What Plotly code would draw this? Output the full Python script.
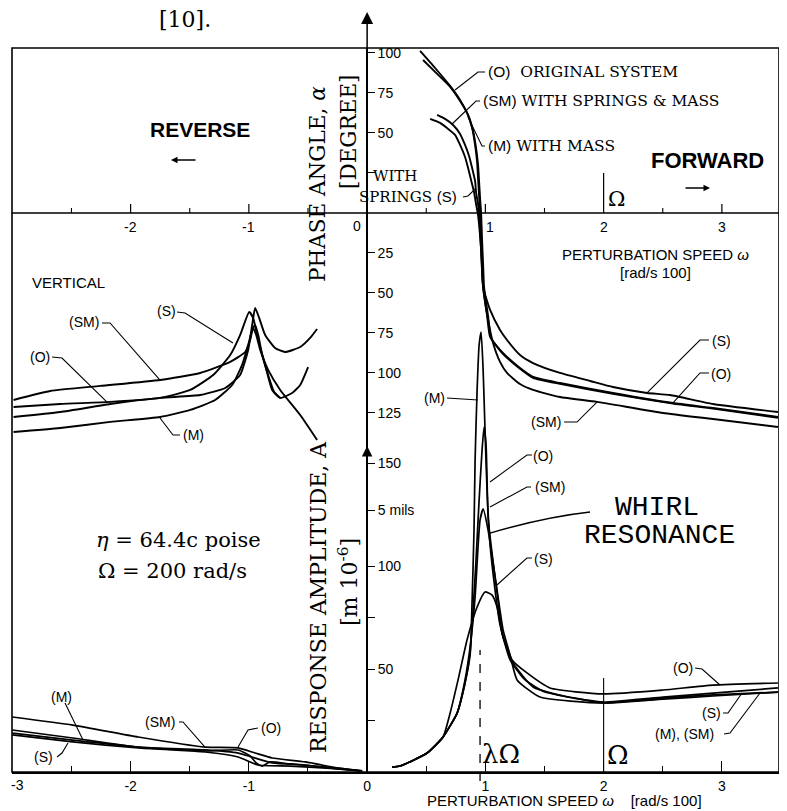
import plotly.graph_objects as go

# ---------------- data (omega in rad/s 100, phase in degree, amplitude in m 1e-6) -------------
# forward phase
w_ph_O = [0.448,0.575,0.702,0.786,0.845,0.888,0.913,0.930,0.938,0.947,0.955,0.964,0.972,0.981,1.014,1.040,1.124,1.183,1.293,1.403,1.631,2.079,2.587,2.925,3.474]
ph_O   = [101.3,90.6,79.4,70.6,62.5,53.1,42.5,31.9,21.9,10.6,0,-16.9,-32.5,-46.3,-63.8,-77.5,-85.6,-90,-96.9,-102.5,-106.3,-112.5,-118.8,-121.9,-127.5]
w_ph_M = [0.473,0.592,0.702,0.786,0.854,0.896,0.921,0.938,0.947,0.955,0.964,0.972,0.981,0.989,1.023,1.048,1.124,1.183,1.293,1.403,1.631,2.079,2.587,2.925,3.474]
ph_M   = [95.6,86.9,78.8,70,61.3,51.3,40.6,30,19.4,9.4,0,-16.9,-32.5,-46.3,-64.5,-78,-86,-90.5,-97.3,-103,-106.8,-113,-119.2,-122.3,-128]
w_ph_SM = [0.592,0.659,0.727,0.786,0.828,0.862,0.888,0.913,0.921,0.938,0.947,0.964,0.981,1.023,1.065,1.124,1.183,1.293,1.403,1.631,1.944,2.502,2.925,3.474]
ph_SM   = [61.3,58.8,55,49.4,42.5,35.6,28.1,20,13.1,5.6,-1.3,-23.1,-46.3,-66.9,-81.3,-93.1,-100,-106.9,-110.6,-115,-118.1,-125,-128.8,-133.8]
w_ph_S = [0.533,0.617,0.676,0.744,0.786,0.828,0.854,0.879,0.904,0.921,0.938,0.964,0.981,1.040,1.124,1.183,1.293,1.403,1.631,1.885,2.079,2.367,2.561,2.925,3.474]
ph_S   = [58.8,56.3,53.1,48.8,42.5,35,28.1,20.6,13.1,5.6,-1.3,-23.1,-46.3,-60.6,-73.1,-79.4,-88.8,-93.8,-100,-105,-108.8,-112.5,-113.8,-119.4,-124.4]

# reverse ("VERTICAL") phase
w_rph_S = [-2.99,-2.595,-2.172,-1.750,-1.496,-1.302,-1.158,-1.074,-0.997,-0.964,-0.921,-0.862,-0.803,-0.735,-0.634,-0.566,-0.499]
rph_S   = [-121.3,-119.4,-118.1,-115.6,-110.6,-101.3,-88.8,-76.3,-61.9,-65.6,-79.4,-95,-110.6,-115.6,-112.5,-107.5,-96.3]
w_rph_O = [-2.99,-2.595,-2.172,-1.750,-1.412,-1.200,-1.074,-1.006,-0.972,-0.947,-0.913,-0.862,-0.778,-0.693,-0.566,-0.482,-0.423]
rph_O   = [-127.5,-124.4,-119.4,-115.6,-113.8,-109.4,-101.3,-85.6,-70,-59.4,-65.6,-76.3,-84.4,-86.9,-83.8,-78.1,-72.5]
w_rph_SM = [-2.99,-2.68,-2.257,-1.750,-1.412,-1.158,-1.031,-0.989,-0.964,-0.938,-0.904,-0.837,-0.735,-0.566,-0.423]
rph_SM   = [-116.9,-111.3,-108.1,-104.4,-100,-93.1,-86.9,-79.4,-71.9,-76.3,-85.6,-98.1,-110.6,-126.3,-141.9]
w_rph_M = [-2.99,-2.595,-2.172,-1.750,-1.496,-1.285,-1.141,-1.057,-1.006,-0.972,-0.947,-0.921,-0.887,-0.837,-0.786,-0.735]
rph_M   = [-136.9,-134.4,-130.6,-127.5,-123.1,-116.9,-107.5,-95,-82.5,-73.1,-70,-76.3,-88.8,-101.3,-111.9,-115.6]

# forward amplitude
w_A_M = [0.211,0.279,0.507,0.642,0.761,0.828,0.871,0.888,0.904,0.913,0.930,0.947,0.964,0.981,0.997,1.014,1.040,1.082,1.124,1.209,1.336,1.505,1.758,1.995,2.502,2.925,3.474]
A_M   = [2.4,2.9,9.2,17,28.6,43.2,56.8,83.5,117.5,151.5,185.4,207.3,213.6,195.1,166,136.9,110.2,88.3,71.4,54.4,44.7,38.8,35.9,33.5,35.4,36.9,38.8]
w_A_O = [0.211,0.279,0.507,0.642,0.761,0.828,0.871,0.896,0.921,0.947,0.972,0.989,1.006,1.014,1.023,1.048,1.074,1.107,1.141,1.226,1.352,1.547,1.995,2.502,2.925,3.474]
A_O   = [2.4,2.9,9.2,17,28.6,43.2,58.3,78.6,102.9,132,156.3,167.5,158.7,141.7,123.8,110.2,98.1,83.5,67.5,54.4,48.1,40.8,37.9,39.8,42.2,43.2]
w_A_SM = [0.211,0.279,0.507,0.642,0.761,0.828,0.871,0.913,0.938,0.955,0.981,1.023,1.065,1.107,1.150,1.209,1.268,1.462,1.995,2.502,2.925,3.474]
A_SM   = [2.4,2.9,9.2,17,28.6,44.7,60.7,85,109.2,122.3,127.7,117.5,101.5,85,68.9,56.8,44.7,36.4,33.5,35.9,37.4,38.8]
w_A_S = [0.211,0.279,0.507,0.642,0.702,0.769,0.845,0.930,0.997,1.057,1.099,1.150,1.234,1.403,1.691,1.995,2.502,2.925,3.474]
A_S   = [2.4,2.9,9.2,17,28.6,44.7,64.1,80.1,87.4,85.9,80.1,65.5,52.9,41.3,36.4,34,36.4,38.3,40.8]

# reverse amplitude
w_rA_SM = [-3.0,-2.49,-1.936,-1.369,-1.090,-0.947,-0.803,-0.524,-0.245,-0.127,-0.042]
rA_SM   = [26.7,22.8,17,12.1,11.7,9.2,6.8,4.9,1.9,1,0.5]
w_rA_M = [-3.0,-2.49,-1.936,-1.369,-1.090,-0.803,-0.524,-0.245,-0.042]
rA_M   = [20.4,16.5,12.1,10.7,9.2,4.4,3.4,1.5,0.5]
w_rA_S = [-3.0,-2.49,-1.936,-1.369,-1.090,-0.921,-0.651,-0.245,-0.042]
rA_S   = [18,14.6,11.7,9.7,7.3,3.4,2.9,1.5,0.5]
w_rA_O = [-3.0,-2.49,-1.936,-1.369,-1.090,-0.989,-0.938,-0.887,-0.820,-0.651,-0.245,-0.042]
rA_O   = [18.9,15.5,12.1,10.2,10.7,7.8,4.4,2.9,4.9,3.9,1.9,0.5]

# axes ticks
x_major = [-3, -2, -1, 0, 1, 2, 3]
x_major_text = ["", "-2", "-1", "0", "1", "2", "3"]   # "-3" is placed as a text at the frame edge
x_edge_label = (-3, "-3")
x_minor = [-2.5, -1.5, -0.5, 0.5, 1.5, 2.5]
phase_ticks = [100, 75, 50, 25, -25, -50, -75, -100, -125]
phase_ticktext = ["100", "75", "50", "", "25", "50", "75", "100", "125"]
amp_ticks = [25, 50, 75, 100, 127, 150]
amp_ticktext = ["", "50", "", "100", "5 mils", "150"]
mid_major = [-2, -1, 1, 3]
mid_minor = [-2.5, -1.5, -0.5, 0.5, 1.5, 2.5]
mid_labels = [(-2, "-2"), (-1, "-1"), (1, "1"), (2, "2"), (3, "3")]
lam_omega = 0.955
Omega = 2.0

# ---------------- layout geometry ----------------
# the page body has an 8px margin, so the figure is drawn 8px in from the window corner
OFF = 8
WIN_W, WIN_H = 787, 811
W, H = WIN_W - OFF, WIN_H - OFF
PL, PR, PT, PB = 12, 779, 48, 772        # plot-area edges in window pixels
L, T = PL - OFF, PT - OFF
R, B = W - (PR - OFF), H - (PB - OFF)
X_RANGE = [-3.003, 3.483]
PH_RANGE = [-349.4, 103.1]
A_RANGE = [0, 351.5]

SANS = "Liberation Sans"
SERIF = "DejaVu Serif"
MONO = "Liberation Mono"

def PXp(px):
    return (px - PL) / (PR - PL)

def PYp(py):
    return (PB - py) / (PB - PT)

fig = go.Figure()
lw = 1.9
def add(x, y, yaxis="y", width=lw):
    fig.add_trace(go.Scatter(x=x, y=y, yaxis=yaxis, mode="lines",
                             line=dict(color="black", width=width, shape="spline", smoothing=0.5),
                             hoverinfo="skip", showlegend=False))

for x, y in [(w_ph_O, ph_O), (w_ph_M, ph_M), (w_ph_SM, ph_SM), (w_ph_S, ph_S),
             (w_rph_S, rph_S), (w_rph_O, rph_O), (w_rph_SM, rph_SM), (w_rph_M, rph_M)]:
    add(x, y, "y")
for x, y in [(w_A_M, A_M), (w_A_O, A_O), (w_A_SM, A_SM), (w_A_S, A_S),
             (w_rA_SM, rA_SM), (w_rA_M, rA_M), (w_rA_S, rA_S), (w_rA_O, rA_O)]:
    add(x, y, "y2", 1.7)

shapes = []
# frame
shapes.append(dict(type="rect", xref="paper", yref="paper", x0=0, y0=0, x1=1, y1=1,
                   line=dict(color="black", width=1.6)))
# middle (phase zero) axis
shapes.append(dict(type="line", xref="x", yref="y", x0=X_RANGE[0], x1=X_RANGE[1], y0=0, y1=0,
                   line=dict(color="black", width=1.6)))
for v in mid_major:
    shapes.append(dict(type="line", xref="x", yref="y", x0=v, x1=v, y0=0, y1=5.6,
                       line=dict(color="black", width=1.2)))
for v in mid_minor:
    shapes.append(dict(type="line", xref="x", yref="y", x0=v, x1=v, y0=0, y1=3.1,
                       line=dict(color="black", width=1.1)))
# Omega marker on phase axis
shapes.append(dict(type="line", xref="x", yref="y", x0=Omega, x1=Omega, y0=0, y1=25,
                   line=dict(color="black", width=1.2)))
# Omega and lambda*Omega markers on amplitude axis
shapes.append(dict(type="line", xref="x", yref="y2", x0=Omega, x1=Omega, y0=0, y1=45.6,
                   line=dict(color="black", width=1.1)))
shapes.append(dict(type="line", xref="x", yref="paper", x0=lam_omega, x1=lam_omega,
                   y0=PYp(781), y1=PYp(650),
                   line=dict(color="black", width=1.3, dash="dash")))

def leader(pts, width=1.1):
    d = "M " + " L ".join(f"{PXp(a):.4f},{PYp(b):.4f}" for a, b in pts)
    shapes.append(dict(type="path", xref="paper", yref="paper", path=d,
                       line=dict(color="black", width=width)))

# leader lines (window-pixel anchor points of labels)
leader([(485, 72), (478, 72), (455, 90)])
leader([(480, 101), (476, 101), (452, 124)])
leader([(485, 146), (482, 146), (468, 117)])
leader([(463, 197), (468, 196), (476, 188)])
leader([(177, 312), (185, 313), (233, 343)])
leader([(102, 323), (110, 323), (160, 380)])
leader([(52, 357), (62, 358), (107, 402)])
leader([(180, 435), (173, 435), (160, 418)])
leader([(709, 340), (700, 340), (647, 393)])
leader([(709, 373), (700, 373), (673, 403)])
leader([(564, 422), (577, 422), (597, 402)])
leader([(447, 398), (478, 400)])
leader([(532, 455), (527, 455), (490, 482)])
leader([(531, 487), (527, 487), (490, 507)])
leader([(532, 558), (527, 558), (497, 585)])
leader([(695, 668), (702, 669), (720, 685)])
leader([(723, 713), (728, 713), (742, 693)])
leader([(724, 734), (730, 733), (760, 693)])
leader([(65, 703), (83, 740)])
leader([(179, 722), (183, 722), (205, 747)])
leader([(258, 728), (248, 730), (238, 747)])
leader([(57, 757), (62, 753), (68, 743)])
# whirl resonance leader (curved)
shapes.append(dict(type="path", xref="paper", yref="paper",
                   path=f"M {PXp(590):.4f},{PYp(512):.4f} Q {PXp(545):.4f},{PYp(517):.4f} {PXp(490):.4f},{PYp(533):.4f}",
                   line=dict(color="black", width=1.3)))

ann = []
def txt(s, px, py, size, family=SANS, xanchor="center", angle=0):
    ann.append(dict(text=s, x=PXp(px), y=PYp(py), xref="paper", yref="paper",
                    showarrow=False, xanchor=xanchor, yanchor="middle", textangle=angle,
                    font=dict(family=family, size=size, color="black")))

def sp(s, fam):
    return f'<span style="font-family:{fam}">{s}</span>'

# bottom-axis edge label (nudged right so it stays inside the page)
ann.append(dict(text=x_edge_label[1], x=x_edge_label[0], y=PYp(785), xref="x", yref="paper",
                showarrow=False, xanchor="left", yanchor="middle", xshift=-3,
                font=dict(family=SANS, size=14, color="black")))

txt("[10].", 185, 20, 22, SERIF)
txt("<b>REVERSE</b>", 200, 129, 21, SANS)
txt("<b>FORWARD</b>", 707, 160, 22, SANS)
txt(sp("(O)", SANS) + "  ORIGINAL SYSTEM", 486, 72, 15.5, SERIF, "left")
txt(sp("(SM)", SANS) + " WITH SPRINGS &amp; MASS", 481, 101, 15.5, SERIF, "left")
txt(sp("(M)", SANS) + " WITH MASS", 486, 146, 15.5, SERIF, "left")
txt("WITH", 371, 176, 15, SERIF, "left")
txt("SPRINGS " + sp("(S)", SANS), 357, 197, 15, SERIF, "left")
txt("Ω", 616, 199, 21, SERIF)
txt("PERTURBATION SPEED <i>ω</i>", 655, 255, 15, SANS)
txt("[rad/s 100]", 655, 272, 15, SANS)
txt("0", 357, 226, 14, SANS)
for v, s in mid_labels:
    off = 5 if v == 1 else 0
    txt(s, 367 + v * 118.3 + off, 227, 14, SANS)
txt("VERTICAL", 69, 282, 15, SANS)
txt("(S)", 166, 311, 14, SANS)
txt("(SM)", 84, 322, 14, SANS)
txt("(O)", 40, 357, 14, SANS)
txt("(M)", 193, 435, 14, SANS)
txt("(S)", 721, 341, 14, SANS)
txt("(O)", 721, 374, 14, SANS)
txt("(SM)", 546, 422, 14, SANS)
txt("(M)", 434, 398, 14, SANS)
txt("(O)", 543, 456, 14, SANS)
txt("(SM)", 550, 487, 14, SANS)
txt("(S)", 543, 559, 14, SANS)
txt("(O)", 683, 668, 14, SANS)
txt("(S)", 711, 713, 14, SANS)
txt("(M), (SM)", 684, 734, 14, SANS)
txt("(M)", 61, 697, 14, SANS)
txt("(SM)", 160, 722, 14, SANS)
txt("(O)", 271, 728, 14, SANS)
txt("(S)", 43, 757, 14, SANS)
txt("WHIRL", 657, 507, 28, MONO)
txt("RESONANCE", 659, 535, 28, MONO)
txt("λΩ", 501, 754, 26, SERIF)
txt("Ω", 618, 755, 26, SERIF)
txt("PERTURBATION SPEED <i>ω</i>    [rad/s 100]", 564, 800, 15, SANS)
txt("<i>η</i> = 64.4c poise", 178, 540, 21, SERIF)
txt("Ω = 200 rad/s", 172, 571, 21, SERIF)
txt("PHASE ANGLE, <i>α</i>", 318, 184, 21.5, SERIF, angle=-90)
txt("[DEGREE]", 348, 132, 21.5, SERIF, angle=-90)
txt("RESPONSE AMPLITUDE, A", 318, 597, 22, SERIF, angle=-90)
txt("[m 10<sup>-6</sup>]", 348, 582, 22, SERIF, angle=-90)

# arrows
ann.append(dict(x=0, y=PYp(12), xref="x", yref="paper", ax=0, ay=50, axref="pixel", ayref="pixel",
                text="", showarrow=True, arrowhead=2, arrowsize=1.6, arrowwidth=1.5, arrowcolor="black"))
ann.append(dict(x=0, y=PYp(446), xref="x", yref="paper", ax=0, ay=18, axref="pixel", ayref="pixel",
                text="", showarrow=True, arrowhead=2, arrowsize=1.4, arrowwidth=1.5, arrowcolor="black"))
ann.append(dict(x=PXp(171), y=PYp(160), xref="paper", yref="paper", ax=26, ay=0,
                text="", showarrow=True, arrowhead=2, arrowsize=1.0, arrowwidth=1.3, arrowcolor="black"))
ann.append(dict(x=PXp(710), y=PYp(188), xref="paper", yref="paper", ax=-26, ay=0,
                text="", showarrow=True, arrowhead=2, arrowsize=1.0, arrowwidth=1.3, arrowcolor="black"))

ypos = (367 - PL) / (PR - PL)
fig.update_layout(
    width=W, height=H, margin=dict(l=L, r=R, t=T, b=B, autoexpand=False),
    paper_bgcolor="white", plot_bgcolor="white", showlegend=False,
    shapes=shapes, annotations=ann,
    xaxis=dict(range=X_RANGE, showgrid=False, zeroline=False, showline=True, linecolor="black",
               linewidth=1.6, ticks="inside", ticklen=11, tickwidth=1.2, tickcolor="black",
               tickmode="array", tickvals=x_major, ticktext=x_major_text,
               tickfont=dict(family=SANS, size=14, color="black"),
               minor=dict(ticks="inside", ticklen=6, tickwidth=1.1, tickcolor="black",
                          tickmode="array", tickvals=x_minor, showgrid=False)),
    yaxis=dict(range=PH_RANGE, anchor="free", position=ypos, side="right", showgrid=False,
               zeroline=False, showline=True, linecolor="black", linewidth=1.6,
               ticks="outside", ticklen=7, tickwidth=1.2, tickcolor="black",
               tickmode="array", tickvals=phase_ticks, ticktext=phase_ticktext,
               tickfont=dict(family=SANS, size=14, color="black")),
    yaxis2=dict(range=A_RANGE, overlaying="y", anchor="free", position=ypos, side="right",
                showgrid=False, zeroline=False, showline=False,
                ticks="outside", ticklen=7, tickwidth=1.2, tickcolor="black",
                tickmode="array", tickvals=amp_ticks, ticktext=amp_ticktext,
                tickfont=dict(family=SANS, size=14, color="black")),
)

fig.write_html("out.html")
